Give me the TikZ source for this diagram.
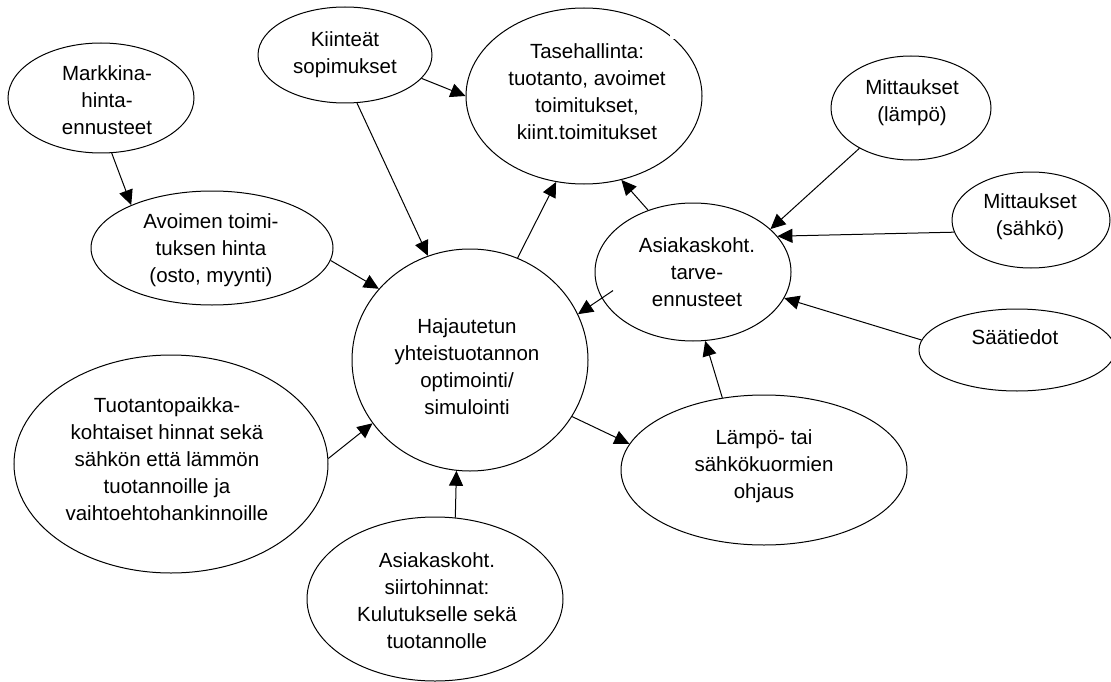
\documentclass[tikz,border=0pt]{standalone}
\usepackage{fontspec}
\setmainfont{Liberation Sans}
\usetikzlibrary{shapes.geometric,arrows.meta}
\begin{document}
\begin{tikzpicture}[x=1pt,y=-1pt,
  oval/.style={draw, ellipse, line width=1pt, inner sep=0pt},
  lbl/.style={align=center, font=\fontsize{20.5}{27}\selectfont, inner sep=0pt},
  conn/.style={line width=1pt, -{Triangle[length=15pt,width=14pt]}}]
\useasboundingbox[fill=white] (0,0) rectangle (1111,682);
% ellipses
\node[oval, minimum width=186pt, minimum height=110pt] (mk) at (101,98) {};
\node[oval, minimum width=174pt, minimum height=96pt]  (ks) at (345,55) {};
\node[oval, minimum width=236pt, minimum height=176pt] (ts) at (584,96) {};
\node[oval, minimum width=242pt, minimum height=114pt] (av) at (212,248) {};
\node[oval, minimum width=196pt, minimum height=138pt] (at) at (693,272) {};
\node[oval, minimum width=160pt, minimum height=104pt] (ml) at (911,108) {};
\node[oval, minimum width=158pt, minimum height=96pt]  (ms) at (1031,220) {};
\node[oval, minimum width=196pt, minimum height=82pt]  (sa) at (1017,350) {};
\node[oval, minimum width=236pt, minimum height=222pt] (hj) at (470,360) {};
\node[oval, minimum width=314pt, minimum height=218pt] (tp) at (171,464) {};
\node[oval, minimum width=286pt, minimum height=150pt] (lo) at (764,470) {};
\node[oval, minimum width=256pt, minimum height=164pt] (si) at (435,599) {};
\fill[white] (670,31) rectangle (676,39);
% texts
\node[lbl] (mkt) at (107,100) {Markkina-\\hinta-\\ennusteet};
\node[lbl] (kst) at (345,55) {Kiinteät\\sopimukset};
\node[lbl] (tst) at (587,92) {Tasehallinta:\\tuotanto, avoimet\\toimitukset,\\kiint.toimitukset};
\node[lbl] (avt) at (211,250) {Avoimen toimi-\\tuksen hinta\\(osto, myynti)};
\node[lbl] (att) at (697,272) {Asiakaskoht.\\tarve-\\ennusteet};
\node[lbl] (mlt) at (912,103) {Mittaukset\\(lämpö)};
\node[lbl] (mst) at (1030,217) {Mittaukset\\(sähkö)};
\node[lbl] (sat) at (1015,337) {Säätiedot};
\node[lbl] (hjt) at (467,367) {Hajautetun\\yhteistuotannon\\optimointi/\\simulointi};
\node[lbl] (tpt) at (167,459) {Tuotantopaikka-\\kohtaiset hinnat sekä\\sähkön että lämmön\\tuotannoille ja\\vaihtoehtohankinnoille};
\node[lbl] (lot) at (764,466) {Lämpö- tai\\sähkökuormien\\ohjaus};
\node[lbl] (sit) at (437,601) {Asiakaskoht.\\siirtohinnat:\\Kulutukselle sekä\\tuotannolle};
% connectors
\draw[conn] (mk.281.5) -- (av.152.6);
\draw[conn] (ks.284.3) -- (hj.112.2);
\draw[conn] (ks.343.4) -- (ts.180.5);
\draw[conn] (av.354.3) -- (hj.142);
\draw[conn] (hj.65.4) -- (ts.252.8);
\draw[conn] (at.126.6) -- (ts.294.9);
\draw[conn] (ml.218.9) -- (at.29.7);
\draw[conn] (ms.189.3) -- (at.23.5);
\draw[conn] (sa.174.7) -- (at.344.2);
\draw[conn, shorten <=-13.6pt] (at.196.7) -- (hj.23.9);
\draw[conn] (hj.331.5) -- (lo.169.5);
\draw[conn] (lo.120.7) -- (at.280);
\draw[conn] (tp.2.65) -- (hj.213.8);
\draw[conn] (si.76.8) -- (hj.263.1);
\end{tikzpicture}
\end{document}
